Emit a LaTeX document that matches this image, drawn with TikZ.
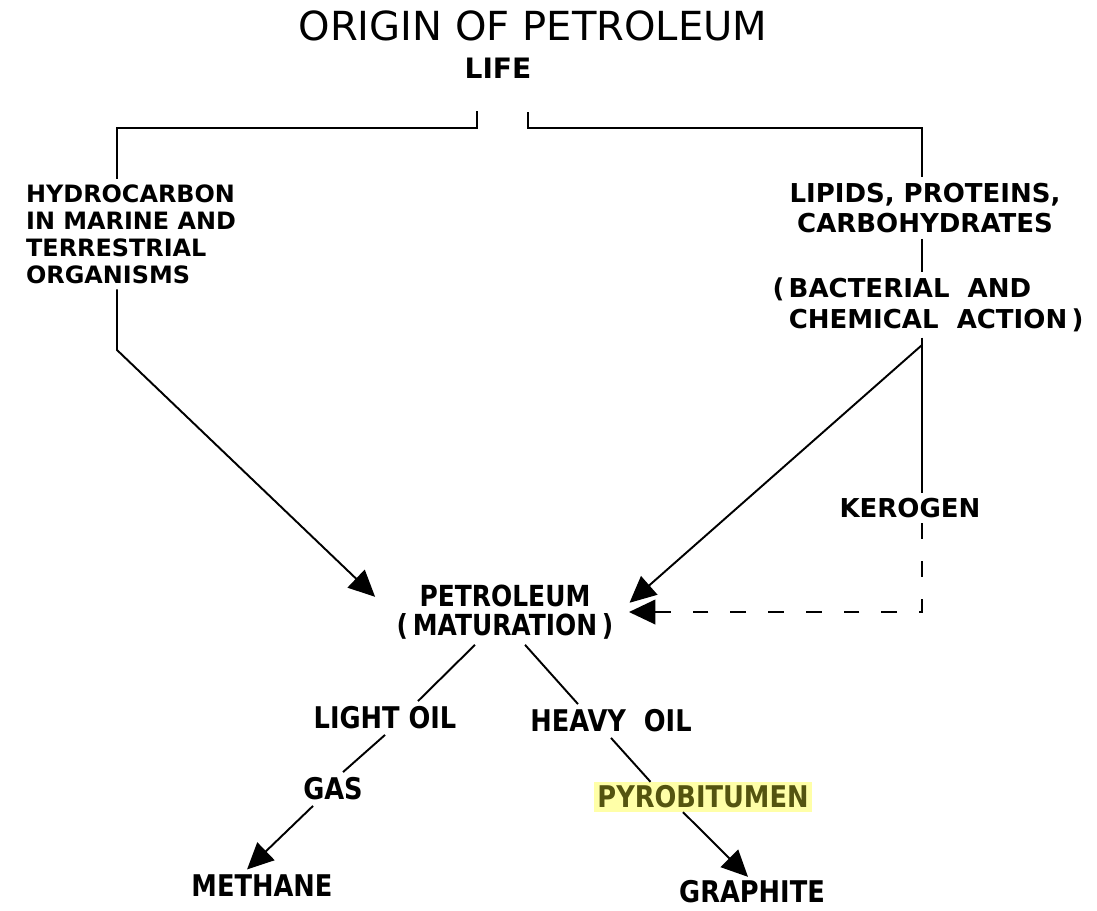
\documentclass[tikz,border=0pt]{standalone}
\usepackage{fontspec}
\setmainfont{DejaVu Sans}
\newfontfamily\slimfont{DejaVu Sans}[FakeStretch=0.86]
\usetikzlibrary{arrows.meta}
\definecolor{markyellow}{RGB}{255,255,168}
\definecolor{markink}{RGB}{84,84,16}

\begin{document}
\begin{tikzpicture}[
    x=0.02cm, y=-0.02cm,
    term/.style={font=\fontsize{14.8}{17.6}\selectfont\bfseries, align=center, inner sep=3pt},
    block/.style={term, font=\fontsize{13.6}{15.4}\selectfont\bfseries, align=left},
    low/.style={term, font=\slimfont\fontsize{17}{20}\selectfont\bfseries},
    link/.style={line width=1.1pt},
    flow/.style={link, -{Triangle[length=15pt,width=14pt]}},
    hint/.style={flow, dash pattern=on 9pt off 12.5pt}
]
\useasboundingbox (0,0) rectangle (1097,910);
\node[font=\fontsize{22.8}{27}\selectfont] (title) at (533,26) {ORIGIN OF PETROLEUM};
\node[term, font=\fontsize{16}{19}\selectfont\bfseries] (life) at (498,68) {LIFE};
\node[block] (hydro) at (131,234) {HYDROCARBON\\IN MARINE AND\\TERRESTRIAL\\ORGANISMS};
\node[term] (lipids) at (925,208) {LIPIDS, PROTEINS,\\CARBOHYDRATES};
\node[term, align=left] (bact) at (928,305) {(\,BACTERIAL\ \ AND\\\hphantom{(\,}CHEMICAL\ \ ACTION\,)};
\node[term] (kerogen) at (910,508) {KEROGEN};
\node[low, font=\slimfont\fontsize{16.5}{16.5}\selectfont\bfseries] (petro) at (505,612) {PETROLEUM\\(\,MATURATION\,)};
\node[low] (light) at (385,718) {LIGHT OIL};
\node[low] (heavy) at (611,721) {HEAVY\ \ OIL};
\node[low] (gas) at (333,789) {GAS};
\node[low] (methane) at (262,886) {METHANE};
\node[low, fill=markyellow, text=markink, inner sep=2pt] (pyro) at (703,797) {PYROBITUMEN};
\node[low, inner sep=2pt] (graphite) at (752,892) {GRAPHITE};

\coordinate (lifeL) at (477,111);
\coordinate (lifeR) at (528,112);
\coordinate (colL) at (117,128);
\coordinate (colR) at (922,128);
\coordinate (bendL) at (117,350);
\coordinate (fork) at (922,345);

\draw[link] (lifeL) -- (lifeL |- colL) -- (colL) -- (colL |- hydro.north);
\draw[link] (lifeR) -- (lifeR |- colR) -- (colR) -- (colR |- lipids.north);
\draw[link] (colR |- lipids.south) -- (colR |- bact.north);
\draw[link] (colR |- bact.south) -- (colR |- kerogen.north);
\draw[flow, shorten >=0.44cm] (colL |- hydro.south) -- (bendL) -- (petro.west);
\draw[flow, shorten >=0.28cm] (fork) -- (petro.east);
\draw[hint, shorten >=0.2cm] (colR |- kerogen.south) |- (petro.east);
\draw[link] ([xshift=-0.6cm]petro.south) -- ([xshift=0.66cm]light.north);
\draw[link] ([xshift=0.4cm]petro.south) -- ([xshift=-0.66cm]heavy.north);
\draw[link] (light.south) -- ([xshift=0.2cm]gas.north);
\draw[flow] ([xshift=-0.4cm]gas.south) -- ([xshift=-0.3cm]methane.north);
\draw[link] (heavy.south) -- ([xshift=-1.05cm]pyro.north);
\draw[flow] ([xshift=-0.4cm]pyro.south) -- ([xshift=-0.08cm]graphite.north);
\end{tikzpicture}
\end{document}
